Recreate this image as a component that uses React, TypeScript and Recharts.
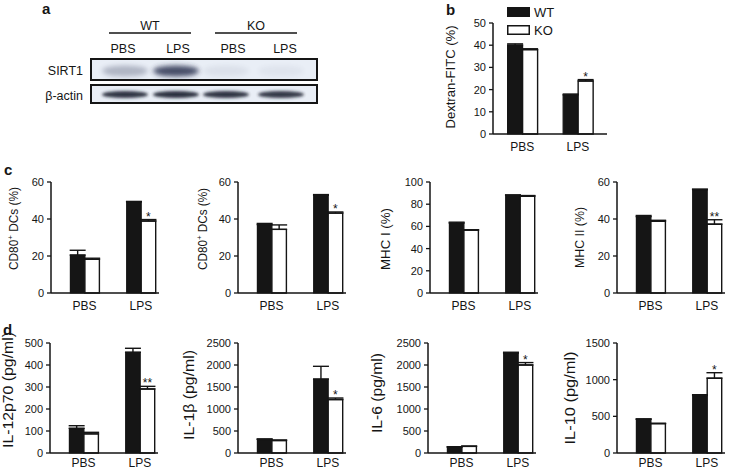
import React from 'react'
import { BarChart, Bar, XAxis, YAxis, ErrorBar, LabelList, Legend } from 'recharts'

const FONT = '"Liberation Sans", Arial, Helvetica, sans-serif'
const INK = '#151515'
const YW = 60

const CATEGORIES = ['PBS', 'LPS']
const SERIES = ['WT', 'KO']

// b: dextran-FITC uptake
const dexWT = [40, 17.6]
const dexKO = [38, 23.9]
const dexWTErr = [0.6, 0.4]
const dexKOErr = [0.4, 0.6]
const dexSig = ['', '*']

// c: surface markers
const cd80aWT = [20.5, 49.2]
const cd80aKO = [18.2, 38.9]
const cd80aWTErr = [2.6, 0.3]
const cd80aKOErr = [0.6, 0.8]
const cd80aSig = ['', '*']

const cd80bWT = [37, 52.8]
const cd80bKO = [34.4, 43.2]
const cd80bWTErr = [0.6, 0.4]
const cd80bKOErr = [2.4, 0.6]
const cd80bSig = ['', '*']

const mhc1WT = [63, 88]
const mhc1KO = [56.6, 87.2]
const mhc1WTErr = [0.8, 0.4]
const mhc1KOErr = [0.4, 0.6]
const mhc1Sig = ['', '']

const mhc2WT = [41.3, 55.8]
const mhc2KO = [38.8, 37.2]
const mhc2WTErr = [0.6, 0.4]
const mhc2KOErr = [0.5, 2.4]
const mhc2Sig = ['', '**']

// d: cytokines
const il12WT = [112, 458]
const il12KO = [87, 291]
const il12WTErr = [12, 18]
const il12KOErr = [7, 12]
const il12Sig = ['', '**']

const il1bWT = [310, 1680]
const il1bKO = [285, 1215]
const il1bWTErr = [10, 290]
const il1bKOErr = [10, 35]
const il1bSig = ['', '*']

const il6WT = [135, 2270]
const il6KO = [150, 2000]
const il6WTErr = [8, 20]
const il6KOErr = [8, 55]
const il6Sig = ['', '*']

const il10WT = [460, 785]
const il10KO = [400, 1020]
const il10WTErr = [6, 10]
const il10KOErr = [6, 75]
const il10Sig = ['', '*']

const ticks50 = [0, 10, 20, 30, 40, 50]
const ticks60 = [0, 20, 40, 60]
const ticks100 = [0, 20, 40, 60, 80, 100]
const ticks500 = [0, 100, 200, 300, 400, 500]
const ticks2500 = [0, 500, 1000, 1500, 2000, 2500]
const ticks1500 = [0, 500, 1000, 1500]

// western blot (panel a)
const blotGroups = ['WT', 'KO']
const blotLanes = ['PBS', 'LPS', 'PBS', 'LPS']
const sirt1Level = [0.3, 0.85, 0.07, 0.05]
const actinLevel = [0.9, 0.92, 0.9, 0.88]

function rows(wt: number[], ko: number[], wtErr: number[], koErr: number[], sig: string[]) {
  return CATEGORIES.map((name, i) => ({
    name,
    WT: wt[i],
    KO: ko[i],
    wtErr: [0, wtErr[i]],
    koErr: [0, koErr[i]],
    sig: sig[i],
  }))
}

type PanelProps = {
  wt: number[]; ko: number[]; wtErr: number[]; koErr: number[]; sig: string[]
  yMax: number; ticks: number[]
  label: React.ReactNode; labelLen: number; labelSize?: number
  axisX: number; topY: number; plotH: number
  labelX: number; labelY: number
  axisLen?: number; padL?: number; padR?: number; barSize?: number
  xTickMargin?: number
  legend?: boolean
}

function LegendBox({ payload }: any) {
  const items = [...(payload || [])].sort((a: any, b: any) => SERIES.indexOf(a.value) - SERIES.indexOf(b.value))
  return (
    <div style={{ fontFamily: FONT, fontSize: 13, color: INK }}>
      {items.map((e: any) => (
        <div key={e.value} style={{ display: 'flex', alignItems: 'center', height: 17.7 }}>
          <svg width={23} height={10} style={{ display: 'block' }}>
            <rect x={0.75} y={0.75} width={21.5} height={8.5} fill={e.color} stroke={INK} strokeWidth={1.5} />
          </svg>
          <span style={{ marginLeft: 4 }}>{e.value}</span>
        </div>
      ))}
    </div>
  )
}

function Panel(p: PanelProps) {
  const axisLen = p.axisLen ?? 108
  const data = rows(p.wt, p.ko, p.wtErr, p.koErr, p.sig)
  const width = YW + axisLen + 16
  const height = 10 + p.plotH + 26
  const yLabel = {
    content: ({ viewBox }: any) => {
      const cx = viewBox.x + p.labelX - p.axisX + YW
      const cy = viewBox.y + p.labelY - p.topY
      return (
        <text
          x={cx}
          y={cy}
          transform={`rotate(-90 ${cx} ${cy})`}
          textAnchor="middle"
          dominantBaseline="central"
          fontSize={p.labelSize ?? 12}
          fill={INK}
          fontFamily={FONT}
          textLength={p.labelLen}
          lengthAdjust="spacingAndGlyphs"
        >
          {p.label}
        </text>
      )
    },
  }
  return (
    <div style={{ position: 'absolute', left: p.axisX - YW, top: p.topY - 10 }}>
      <BarChart
        width={width}
        height={height}
        data={data}
        margin={{ top: 10, right: 16, bottom: 0, left: 0 }}
        barGap={0}
        barSize={p.barSize ?? 14.5}
        style={{ fontFamily: FONT }}
      >
        <XAxis
          dataKey="name"
          height={26}
          tickLine={false}
          tickSize={0}
          tickMargin={p.xTickMargin ?? 8}
          padding={{ left: p.padL ?? 5.4, right: p.padR ?? -10 }}
          axisLine={{ stroke: INK, strokeWidth: 1.5 }}
          tick={{ fontSize: 12, fill: INK }}
        />
        <YAxis
          width={YW}
          domain={[0, p.yMax]}
          ticks={p.ticks}
          interval={0}
          tickSize={4}
          tickMargin={3}
          axisLine={{ stroke: INK, strokeWidth: 1.5 }}
          tickLine={{ stroke: INK, strokeWidth: 1.3 }}
          tick={{ fontSize: 11, fill: INK }}
          label={yLabel}
        />
        {p.legend && (
          <Legend
            layout="vertical"
            align="center"
            verticalAlign="middle"
            content={<LegendBox />}
            wrapperStyle={{ left: 74, top: -9.5, width: 'auto', height: 'auto' }}
          />
        )}
        <Bar dataKey="WT" name="WT" fill={INK} stroke={INK} strokeWidth={1.2} isAnimationActive={false}>
          <ErrorBar dataKey="wtErr" width={8} stroke={INK} strokeWidth={1.4} isAnimationActive={false} />
        </Bar>
        <Bar dataKey="KO" name="KO" fill="#ffffff" stroke={INK} strokeWidth={1.4} isAnimationActive={false}>
          <ErrorBar dataKey="koErr" width={8} stroke={INK} strokeWidth={1.4} isAnimationActive={false} />
          <LabelList
            dataKey="sig"
            content={(lp: any) => {
              if (!lp.value) return null
              const errPx = (p.koErr[lp.index] / p.yMax) * p.plotH
              return (
                <text
                  x={Number(lp.x) + Number(lp.width) / 2}
                  y={Number(lp.y) - errPx + 1}
                  textAnchor="middle"
                  fontSize={12}
                  fill={INK}
                  fontFamily={FONT}
                >
                  {lp.value}
                </text>
              )
            }}
          />
        </Bar>
      </BarChart>
    </div>
  )
}

const cd80Label = (
  <>
    CD80<tspan dy={-4} fontSize={8}>+</tspan>
    <tspan dy={4}> DCs (%)</tspan>
  </>
)

function Blot() {
  const laneX = [125, 176, 226, 281]
  const labelX = [123, 178, 233, 285]
  const groupX = [150, 256]
  const lineX = [[109, 191], [215, 297]]
  return (
    <svg width={737} height={470} style={{ position: 'absolute', left: 0, top: 0 }} fontFamily={FONT}>
      <defs>
        <filter id="bandBlur" x="-30%" y="-80%" width="160%" height="260%">
          <feGaussianBlur stdDeviation="2.6" />
        </filter>
        <filter id="actinBlur" x="-30%" y="-80%" width="160%" height="260%">
          <feGaussianBlur stdDeviation="1.4" />
        </filter>
      </defs>
      <text x={42} y={14} fontSize={15} fontWeight="bold" fill={INK}>a</text>
      <text x={446} y={15} fontSize={15} fontWeight="bold" fill={INK}>b</text>
      <text x={4} y={175} fontSize={15} fontWeight="bold" fill={INK}>c</text>
      <text x={3} y={335} fontSize={15} fontWeight="bold" fill={INK}>d</text>
      {blotGroups.map((g, i) => (
        <g key={g}>
          <text x={groupX[i]} y={29.5} textAnchor="middle" fontSize={12.5} fill={INK}>{g}</text>
          <line x1={lineX[i][0]} x2={lineX[i][1]} y1={33} y2={33} stroke={INK} strokeWidth={1.5} />
        </g>
      ))}
      {blotLanes.map((l, i) => (
        <text key={i} x={labelX[i]} y={52.5} textAnchor="middle" fontSize={12.5} fill={INK}>{l}</text>
      ))}
      <text x={83} y={74.5} textAnchor="end" fontSize={12.5} fill={INK}>SIRT1</text>
      <text x={83} y={99.5} textAnchor="end" fontSize={12.5} fill={INK}>β-actin</text>
      <rect x={91} y={59} width={226} height={21} fill="#e9eef6" stroke={INK} strokeWidth={2} />
      {sirt1Level.map((v, i) => (
        <ellipse key={i} cx={laneX[i]} cy={71} rx={23} ry={5.5} fill="#2c3150" opacity={v} filter="url(#bandBlur)" />
      ))}
      <rect x={91} y={85} width={226} height={18} fill="#e9eef6" stroke={INK} strokeWidth={2} />
      {actinLevel.map((v, i) => (
        <ellipse key={i} cx={laneX[i]} cy={94.5} rx={23} ry={3.6} fill="#1d2130" opacity={v} filter="url(#actinBlur)" />
      ))}
    </svg>
  )
}

export default function App() {
  return (
    <div style={{ position: 'absolute', left: 0, top: 0, width: 737, height: 470, background: '#fff', overflow: 'hidden', fontFamily: FONT }}>
      <Blot />
      <Panel wt={dexWT} ko={dexKO} wtErr={dexWTErr} koErr={dexKOErr} sig={dexSig} yMax={50} ticks={ticks50}
        label="Dextran-FITC (%)" labelLen={103} labelSize={12.5} axisX={493} topY={23} plotH={111} labelX={451} labelY={77}
        axisLen={114} padL={1.6} padR={1.3} barSize={15} legend />

      <Panel wt={cd80aWT} ko={cd80aKO} wtErr={cd80aWTErr} koErr={cd80aKOErr} sig={cd80aSig} yMax={60} ticks={ticks60}
        label={cd80Label} labelLen={83} axisX={51} topY={182} plotH={111} labelX={14} labelY={228.5} />
      <Panel wt={cd80bWT} ko={cd80bKO} wtErr={cd80bWTErr} koErr={cd80bKOErr} sig={cd80bSig} yMax={60} ticks={ticks60}
        label={cd80Label} labelLen={82} axisX={238} topY={182} plotH={111} labelX={203} labelY={229} />
      <Panel wt={mhc1WT} ko={mhc1KO} wtErr={mhc1WTErr} koErr={mhc1KOErr} sig={mhc1Sig} yMax={100} ticks={ticks100}
        label="MHC I (%)" labelLen={62} labelSize={12.5} axisX={430} topY={182} plotH={111} labelX={386} labelY={239} />
      <Panel wt={mhc2WT} ko={mhc2KO} wtErr={mhc2WTErr} koErr={mhc2KOErr} sig={mhc2Sig} yMax={60} ticks={ticks60}
        label="MHC II (%)" labelLen={61} labelSize={12.5} axisX={617} topY={182} plotH={111} labelX={580} labelY={237.5} />

      <Panel wt={il12WT} ko={il12KO} wtErr={il12WTErr} koErr={il12KOErr} sig={il12Sig} yMax={500} ticks={ticks500}
        label="IL-12p70 (pg/ml)" labelLen={116} labelSize={14} axisX={50} topY={343} plotH={110} labelX={8} labelY={390} xTickMargin={5} />
      <Panel wt={il1bWT} ko={il1bKO} wtErr={il1bWTErr} koErr={il1bKOErr} sig={il1bSig} yMax={2500} ticks={ticks2500}
        label="IL-1β (pg/ml)" labelLen={90} labelSize={14} axisX={238} topY={343} plotH={110} labelX={189} labelY={395} xTickMargin={5} />
      <Panel wt={il6WT} ko={il6KO} wtErr={il6WTErr} koErr={il6KOErr} sig={il6Sig} yMax={2500} ticks={ticks2500}
        label="IL-6 (pg/ml)" labelLen={80} labelSize={14} axisX={428} topY={343} plotH={110} labelX={377} labelY={393} xTickMargin={5} />
      <Panel wt={il10WT} ko={il10KO} wtErr={il10WTErr} koErr={il10KOErr} sig={il10Sig} yMax={1500} ticks={ticks1500}
        label="IL-10 (pg/ml)" labelLen={93} labelSize={14} axisX={617} topY={343} plotH={110} labelX={570} labelY={398} xTickMargin={5} />
    </div>
  )
}
